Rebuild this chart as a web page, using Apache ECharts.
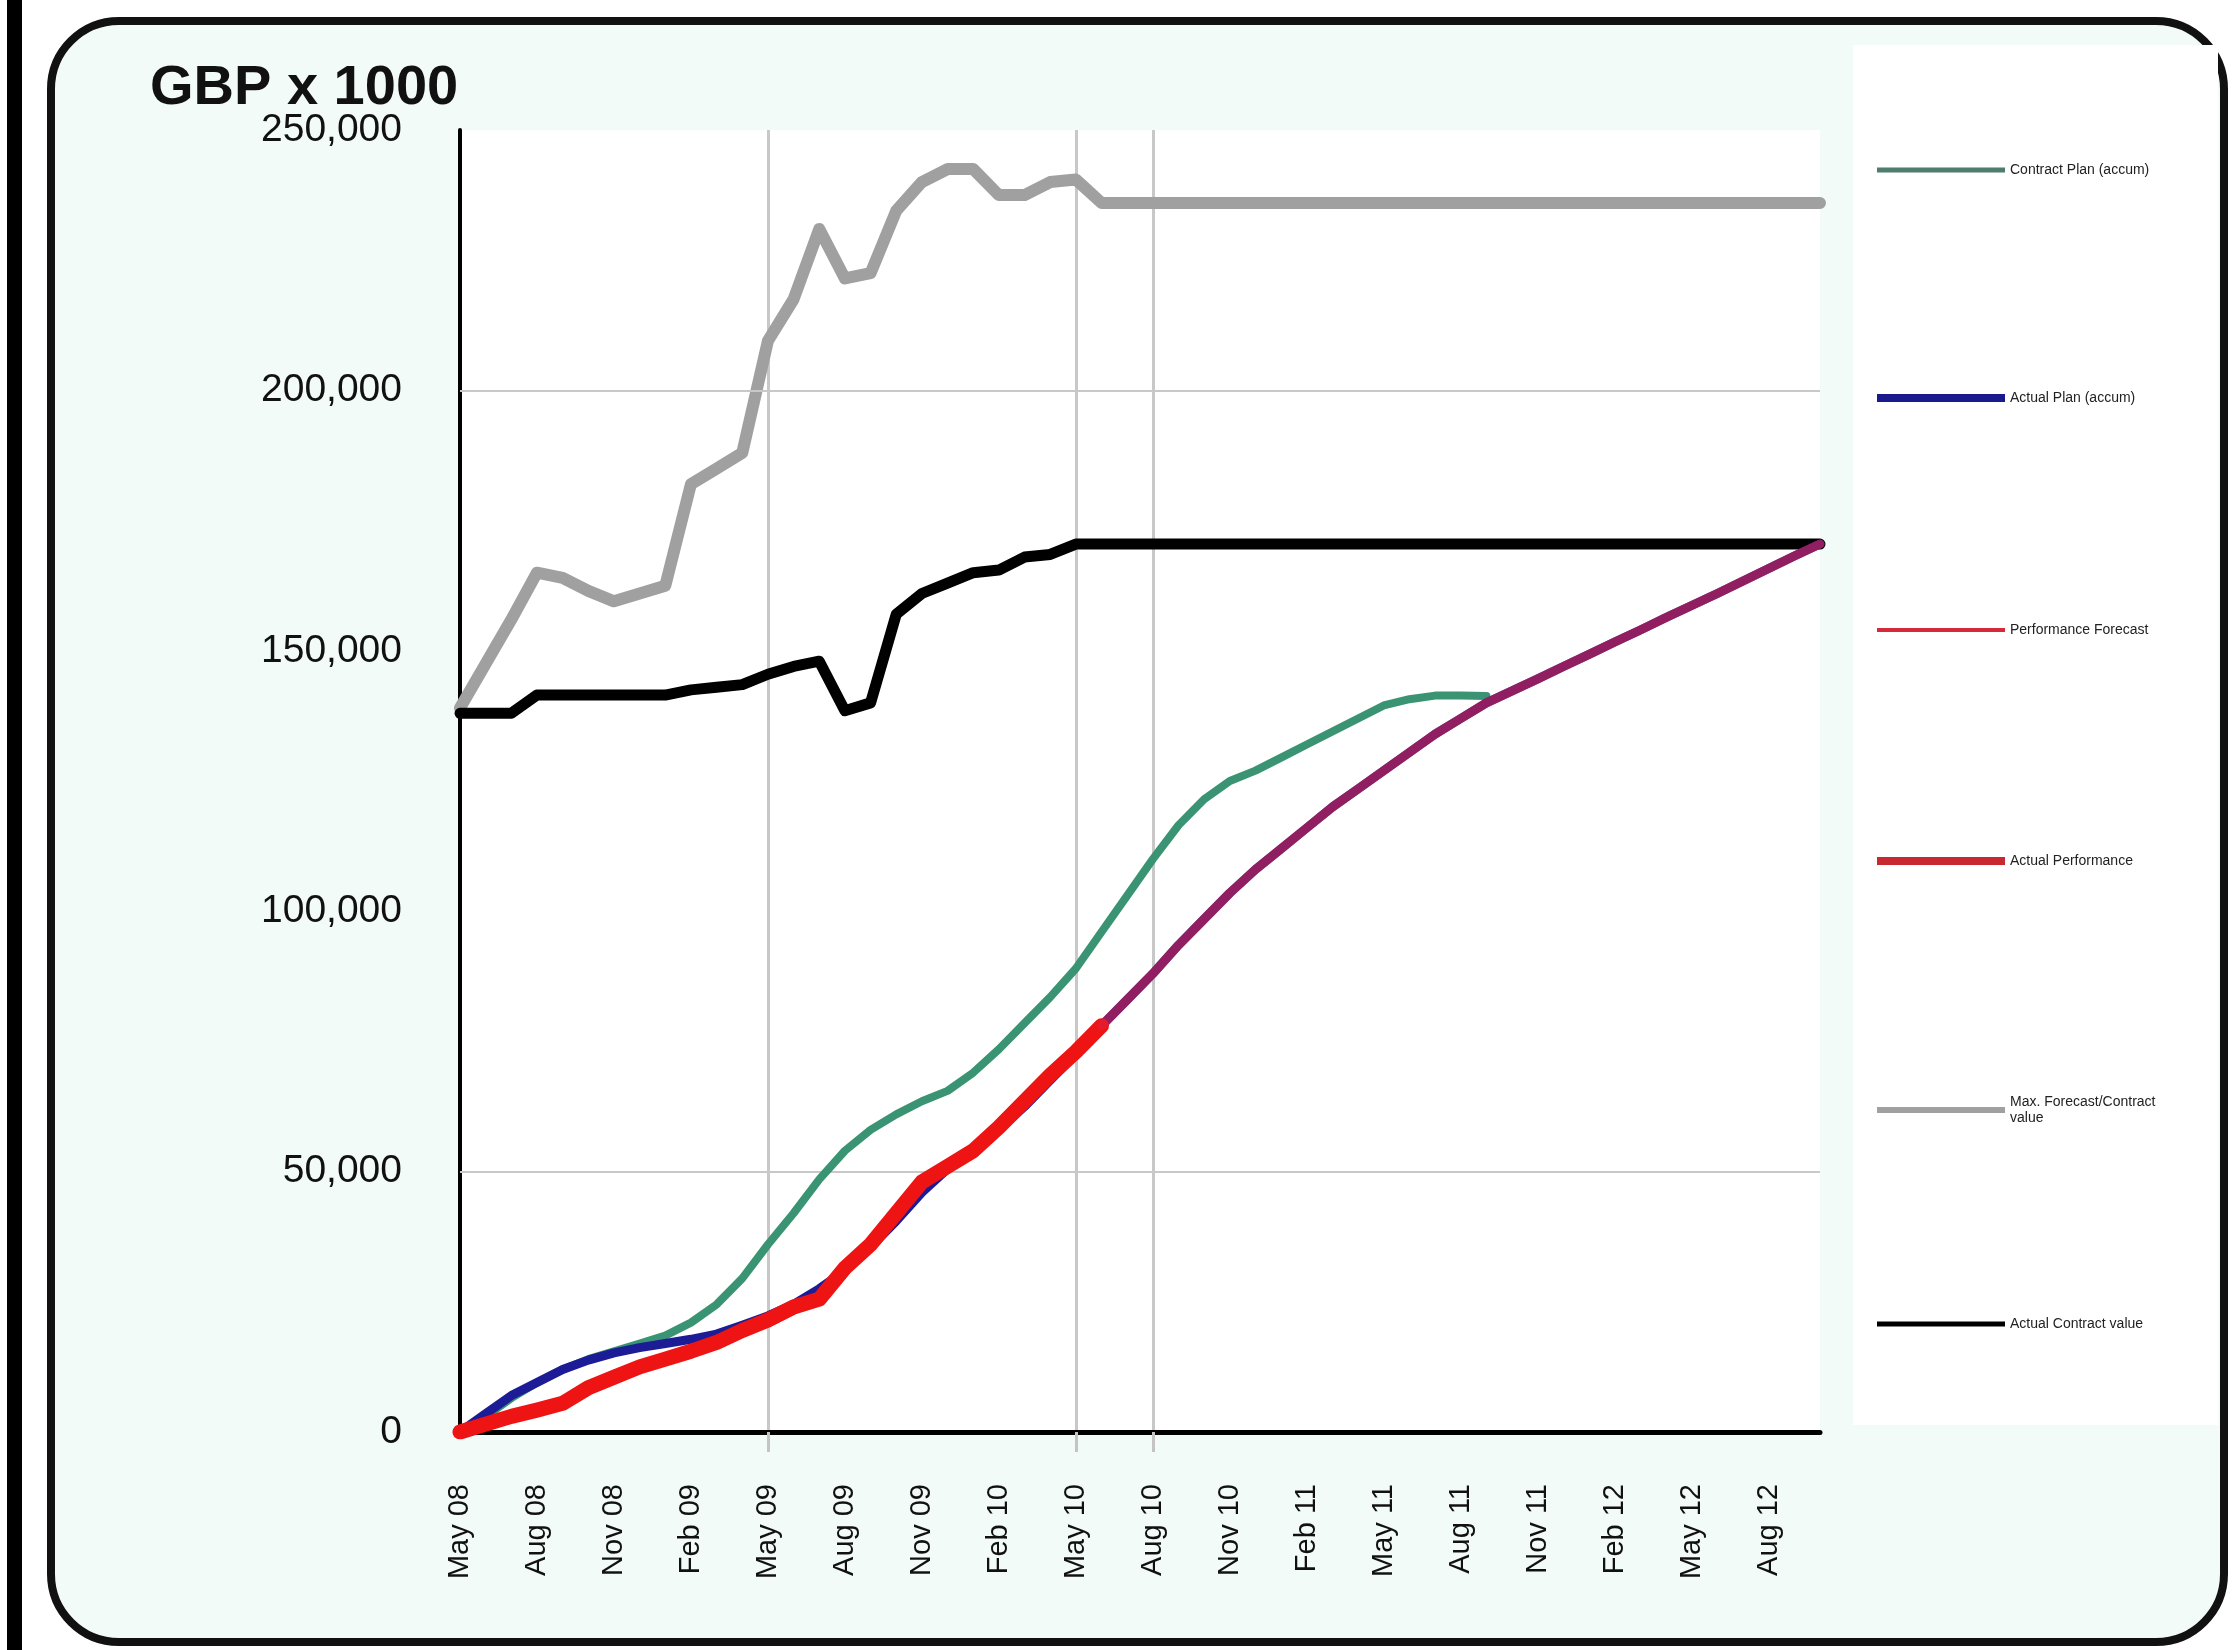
<!DOCTYPE html>
<html>
<head>
<meta charset="utf-8">
<script src="https://cdn.jsdelivr.net/npm/echarts@6/dist/echarts.min.js"></script>
<style>
  html, body { margin: 0; padding: 0; background: #fff; }
  #wrap { position: relative; width: 2235px; height: 1650px; overflow: hidden; }
  #bar { position: absolute; left: 7px; top: 0; width: 15px; height: 1650px; background: #000; }
  #frame { position: absolute; left: 47px; top: 17px; right: 7px; bottom: 4px;
           border: 8px solid #111; border-radius: 72px; background: #f2fbf8; }
  #legendBox { position: absolute; left: 1853px; top: 45px; width: 365px; height: 1380px; background: #fff; }
  #main { position: absolute; left: 0; top: 0; width: 2235px; height: 1650px; }
</style>
</head>
<body>
<div id="wrap">
  <div id="bar"></div>
  <div id="frame"></div>
  <div id="legendBox"></div>
  <div id="main"></div>
</div>
<script>
// months on the x axis
const months = [
  'May 08','Jun 08','Jul 08','Aug 08','Sep 08','Oct 08','Nov 08','Dec 08','Jan 09','Feb 09','Mar 09','Apr 09',
  'May 09','Jun 09','Jul 09','Aug 09','Sep 09','Oct 09','Nov 09','Dec 09','Jan 10','Feb 10','Mar 10','Apr 10',
  'May 10','Jun 10','Jul 10','Aug 10','Sep 10','Oct 10','Nov 10','Dec 10','Jan 11','Feb 11','Mar 11','Apr 11',
  'May 11','Jun 11','Jul 11','Aug 11','Sep 11','Oct 11','Nov 11','Dec 11','Jan 12','Feb 12','Mar 12','Apr 12',
  'May 12','Jun 12','Jul 12','Aug 12','Sep 12','Oct 12'
]
// months that get a vertical marker line
const markerMonths = ['May 09','May 10','Aug 10']
// horizontal reference lines
const refLines = [200000, 50000]
const yTicks = {min: 0, max: 250000, step: 50000}

// GBP x 1000
const contractPlan = [
  0, 3000, 6500, 9500, 12000, 14000, 15500, 17000, 18500, 21000, 24500, 29500,
  36000, 42000, 48500, 54000, 58000, 61000, 63500, 65500, 69000, 73500, 78500, 83500,
  89000, 96000, 103000, 110000, 116500, 121500, 125000, 127000, 129500, 132000, 134500, 137000,
  139500, 140700, 141400, 141400, 141300
]
const actualPlan = [
  0, 3500, 7000, 9500, 12000, 13800, 15200, 16200, 17000, 17800, 18800, 20500,
  22300, 24500, 27500, 31000, 35500, 40500, 46000, 50500, 54000, 58000, 62500, 67500,
  72500, 78000, 83000, 88000, 93500, 98500, 103500, 108000, 112000, 116000, 120000, 123500,
  127000, 130500, 134000, 137000, 140000, 142300, 144600, 147000, 149300, 151700, 154000, 156400,
  158700, 161000, 163400, 165800, 168200, 170500
]
const performanceForecast = [
  null, null, null, null, null, null, null, null, null, null, null, null,
  null, null, null, null, null, null, null, null, null, null, null, null,
  null, 78000, 83000, 88000, 93500, 98500, 103500, 108000, 112000, 116000, 120000, 123500,
  127000, 130500, 134000, 137000, 140000, 142300, 144600, 147000, 149300, 151700, 154000, 156400,
  158700, 161000, 163400, 165800, 168200, 170500
]
const actualPerformance = [
  0, 1500, 3000, 4200, 5500, 8500, 10500, 12500, 14000, 15500, 17200, 19500,
  21500, 24000, 25500, 31500, 36000, 42000, 48000, 51000, 54000, 58500, 63500, 68500,
  73000, 78000
]
const maxForecastContract = [
  139000, 147500, 156000, 165000, 164000, 161500, 159500, 161000, 162500, 182000, 185000, 188000,
  209500, 217500, 231000, 221500, 222500, 234500, 240000, 242500, 242500, 237500, 237500, 240000,
  240500, 236000, 236000, 236000, 236000, 236000, 236000, 236000, 236000, 236000, 236000, 236000,
  236000, 236000, 236000, 236000, 236000, 236000, 236000, 236000, 236000, 236000, 236000, 236000,
  236000, 236000, 236000, 236000, 236000, 236000
]
const actualContract = [
  138000, 138000, 138000, 141500, 141500, 141500, 141500, 141500, 141500, 142500, 143000, 143500,
  145500, 147000, 148000, 138500, 140000, 157000, 161000, 163000, 165000, 165500, 168000, 168500,
  170500, 170500, 170500, 170500, 170500, 170500, 170500, 170500, 170500, 170500, 170500, 170500,
  170500, 170500, 170500, 170500, 170500, 170500, 170500, 170500, 170500, 170500, 170500, 170500,
  170500, 170500, 170500, 170500, 170500, 170500
]

const FONT = '"Liberation Sans", Arial, sans-serif'
const markerIdx = markerMonths.map(m => months.indexOf(m))
const fmt = v => String(v).replace(/\B(?=(\d{3})+(?!\d))/g, ',')

//legend entries down the right side
const legendItems = [
  {name: 'Contract Plan (accum)', color: '#4f7d6c', h: 5, top: 157},
  {name: 'Actual Plan (accum)', color: '#1a1a8c', h: 8, top: 385},
  {name: 'Performance Forecast', color: '#d42a3a', h: 4, top: 617},
  {name: 'Actual Performance', color: '#c82830', h: 8, top: 848},
  {name: 'Max. Forecast/Contract value', color: '#a0a0a0', h: 6, top: 1081, label: 'Max. Forecast/Contract\nvalue'},
  {name: 'Actual Contract value', color: '#000', h: 5, top: 1311}
]

const line = (name, data, color, width, z, extra) => Object.assign({
  name, type: 'line', data, symbol: 'none', z,
  lineStyle: {color, width, join: 'round', cap: 'round'},
  itemStyle: {color},
  emphasis: {disabled: true}
}, extra || {})

const chart = echarts.init(document.getElementById('main'))
chart.setOption({
  animation: false,
  backgroundColor: 'transparent',
  title: {
    text: 'GBP x 1000', left: 145, top: 56,
    textStyle: {fontFamily: FONT, fontSize: 56, fontWeight: 'bold', color: '#111'}
  },
  legend: legendItems.map(it => ({
    data: [{name: it.name, itemStyle: {color: it.color, opacity: 1}}],
    left: 1872, top: it.label ? it.top + 8 : it.top,
    orient: 'vertical',
    icon: 'rect', itemWidth: 128, itemHeight: it.h, itemGap: 8,
    selectedMode: false,
    formatter: () => it.label || it.name,
    textStyle: {fontFamily: FONT, fontSize: 14, color: '#222', lineHeight: 16}
  })),
  grid: {
    left: 460, right: 415, top: 130, bottom: 218,
    show: true, backgroundColor: '#fff', borderWidth: 0
  },
  xAxis: {
    type: 'category', data: months, boundaryGap: false,
    axisLine: {lineStyle: {color: '#000', width: 5}},
    axisTick: {show: true, interval: i => markerIdx.includes(i), length: 20,
               lineStyle: {color: '#c4c4c4', width: 3}},
    splitLine: {show: true, interval: i => markerIdx.includes(i),
                lineStyle: {color: '#c8c8c8', width: 3}},
    axisLabel: {interval: 2, rotate: 90, margin: 52, fontFamily: FONT, fontSize: 29, color: '#111'}
  },
  yAxis: {
    type: 'value', min: yTicks.min, max: yTicks.max, interval: yTicks.step,
    axisLine: {show: true, lineStyle: {color: '#000', width: 4}},
    axisTick: {show: false},
    splitLine: {show: false},
    axisLabel: {margin: 58, fontFamily: FONT, fontSize: 39, color: '#111', formatter: fmt}
  },
  series: [
    line('Max. Forecast/Contract value', maxForecastContract, '#a0a0a0', 12, 3, {
      markLine: {
        silent: true, symbol: 'none', label: {show: false},
        lineStyle: {color: '#c8c8c8', width: 2, type: 'solid'},
        data: refLines.map(v => ({yAxis: v}))
      }
    }),
    line('Actual Contract value', actualContract, '#000', 11, 4),
    line('Contract Plan (accum)', contractPlan, '#3a9474', 8, 5),
    line('Actual Plan (accum)', actualPlan, '#1c1c96', 9, 6),
    line('Actual Performance', actualPerformance, '#ee1414', 15, 7),
    line('Performance Forecast', performanceForecast, '#e0203c', 9, 8, {
      lineStyle: {color: '#e0203c', width: 9, opacity: 0.6, join: 'round', cap: 'round'}
    })
  ]
})
</script>
</body>
</html>
